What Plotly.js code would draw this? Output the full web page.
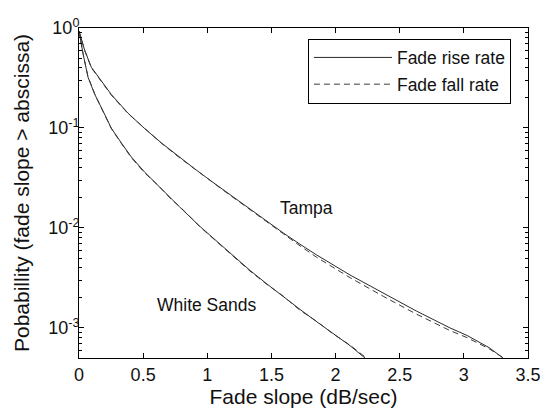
<!DOCTYPE html>
<html><head><meta charset="utf-8">
<script src="https://cdn.plot.ly/plotly-3.0.1.min.js"></script>
<style>html,body{margin:0;padding:0;background:#fff;}#chart{width:545px;height:408px;}</style>
</head><body><div id="chart"></div>
<script>
// Tampa
const tampaRiseX = [0, 0.044, 0.096, 0.174, 0.252, 0.382, 0.512, 0.641, 0.772, 0.902, 1.031, 1.161, 1.278, 1.333, 1.465, 1.592, 1.723, 1.853, 2.113, 2.372, 2.632, 2.892, 3.024, 3.200, 3.305];
const tampaRiseP = [0.933, 0.601, 0.405, 0.294, 0.216, 0.1406, 0.0986, 0.0711, 0.0522, 0.0390, 0.0294, 0.0222, 0.01734, 0.01545, 0.01175, 0.00891, 0.00687, 0.00536, 0.00338, 0.00221, 0.00147, 0.00100, 0.000841, 0.000631, 0.0005];
const tampaFallX = [0, 0.044, 0.096, 0.174, 0.252, 0.382, 0.512, 0.641, 0.772, 0.902, 1.031, 1.161, 1.278, 1.333, 1.465, 1.592, 1.723, 1.853, 2.113, 2.372, 2.632, 2.892, 3.024, 3.200, 3.31];
const tampaFallP = [0.933, 0.598, 0.400, 0.292, 0.213, 0.1395, 0.0980, 0.0706, 0.0518, 0.0387, 0.0291, 0.0220, 0.01715, 0.01525, 0.0115, 0.00868, 0.00662, 0.00508, 0.00318, 0.00207, 0.00137, 0.00094, 0.000800, 0.000615, 0.0005];
// White Sands
const wsRiseX = [0, 0.031, 0.070, 0.122, 0.187, 0.252, 0.330, 0.408, 0.512, 0.616, 0.721, 0.785, 0.943, 1.200, 1.333, 1.465, 1.590, 1.723, 1.855, 1.980, 2.113, 2.229];
const wsRiseP = [0.933, 0.557, 0.323, 0.218, 0.148, 0.0995, 0.0708, 0.0513, 0.0361, 0.0264, 0.0195, 0.0162, 0.01035, 0.00524, 0.00376, 0.00275, 0.00206, 0.00153, 0.001148, 0.000879, 0.000664, 0.0005];
const wsFallX = [0, 0.031, 0.070, 0.122, 0.187, 0.252, 0.330, 0.408, 0.512, 0.616, 0.721, 0.785, 0.943, 1.200, 1.333, 1.465, 1.590, 1.723, 1.855, 1.980, 2.113, 2.24];
const wsFallP = [0.933, 0.560, 0.326, 0.220, 0.146, 0.0985, 0.0700, 0.0505, 0.0355, 0.0267, 0.0192, 0.0164, 0.01025, 0.00530, 0.00370, 0.00272, 0.00209, 0.00150, 0.001158, 0.000872, 0.000672, 0.0005];

const seriesNames = ['Fade rise rate', 'Fade fall rate'];
const siteLabels = ['Tampa', 'White Sands'];
const siteLabelX = [1.773, 0.99];
const siteLabelP = [0.0160, 0.00170];

const xTicks = [0, 0.5, 1, 1.5, 2, 2.5, 3, 3.5];
const xTickText = ['0', '0.5', '1', '1.5', '2', '2.5', '3', '3.5'];
const yTicks = [1, 0.1, 0.01, 0.001];
const yTickText = ['10<sup>0</sup>', '10<sup>-1</sup>', '10<sup>-2</sup>', '10<sup>-3</sup>'];

const minorY = [];
[0.1, 0.01, 0.001, 0.0001].forEach(d => { for (let k = 2; k <= 9; k++) { const v = k * d; if (v >= 0.0005 && v < 1) minorY.push(v); } });

const FONT = 'Liberation Sans, Arial, Helvetica, sans-serif';
const solidC = '#2a2a2a', dashC = '#3a3a3a';

const traces = [
  {x: tampaRiseX, y: tampaRiseP, name: seriesNames[0], legendgroup: 'rise', showlegend: true,
   mode: 'lines', line: {color: solidC, width: 1}},
  {x: wsRiseX, y: wsRiseP, name: seriesNames[0], legendgroup: 'rise', showlegend: false,
   mode: 'lines', line: {color: solidC, width: 1}},
  {x: tampaFallX, y: tampaFallP, name: seriesNames[1], legendgroup: 'fall', showlegend: true,
   mode: 'lines', line: {color: dashC, width: 1, dash: '6px,4px'}},
  {x: wsFallX, y: wsFallP, name: seriesNames[1], legendgroup: 'fall', showlegend: false,
   mode: 'lines', line: {color: dashC, width: 1, dash: '6px,4px'}}
];

const layout = {
  width: 545, height: 408,
  margin: {l: 79, r: 17, t: 28, b: 50},
  paper_bgcolor: '#fff', plot_bgcolor: '#fff',
  font: {family: FONT, color: '#111', size: 18},
  showlegend: true,
  legend: {x: 0.962, xanchor: 'right', y: 0.968, yanchor: 'top', bgcolor: '#fff',
           bordercolor: '#000', borderwidth: 1, font: {family: FONT, size: 17.5, color: '#111'},
           itemwidth: 78, traceorder: 'grouped', tracegroupgap: 1},
  xaxis: {range: [0, 3.5], tickmode: 'array', tickvals: xTicks, ticktext: xTickText,
          showline: true, linecolor: '#000', linewidth: 1, mirror: 'allticks',
          ticks: 'inside', ticklen: 5, tickcolor: '#000', showgrid: false, zeroline: false,
          tickfont: {family: FONT, size: 18, color: '#111'},
          title: {text: 'Fade slope (dB/sec)', font: {family: FONT, size: 21, color: '#111'}, standoff: 2}},
  yaxis: {type: 'log', range: [Math.log10(0.0005), 0], tickmode: 'array', tickvals: yTicks, ticktext: yTickText,
          showline: true, linecolor: '#000', linewidth: 1, mirror: 'allticks',
          ticks: 'inside', ticklen: 5, tickcolor: '#000', showgrid: false, zeroline: false,
          tickfont: {family: FONT, size: 18, color: '#111'}, ticklabelstandoff: -5,
          minor: {tickmode: 'array', tickvals: minorY, ticks: 'inside', ticklen: 3, tickcolor: '#000', showgrid: false},
          title: {text: 'Pobabillity (fade slope > abscissa)', font: {family: FONT, size: 21, color: '#111'}, standoff: 12}},
  annotations: siteLabels.map((t, i) => ({x: siteLabelX[i], y: Math.log10(siteLabelP[i]), xref: 'x', yref: 'y',
     text: t, showarrow: false, font: {family: FONT, size: 17.5, color: '#111'}}))
};

Plotly.newPlot('chart', traces, layout, {displayModeBar: false, staticPlot: true});
</script>
</body></html>
